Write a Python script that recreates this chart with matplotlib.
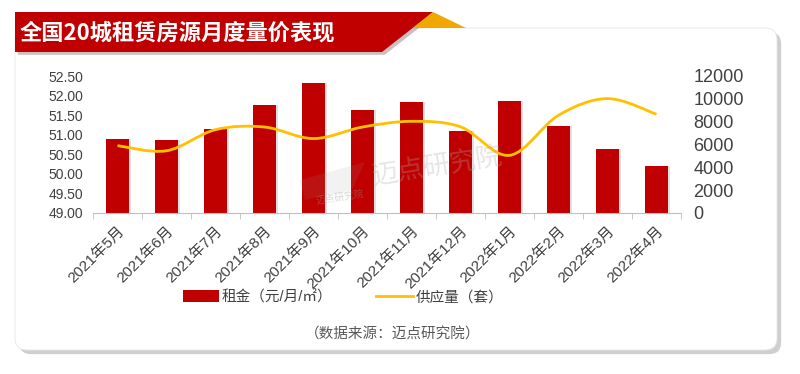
import numpy as np
import matplotlib
matplotlib.use('Agg')
import matplotlib.pyplot as plt
from matplotlib.path import Path
from matplotlib.patches import PathPatch, FancyBboxPatch, Polygon
from matplotlib.lines import Line2D
import matplotlib.patheffects as pe

plt.rcParams['font.family'] = ['Liberation Sans', 'Noto Sans CJK SC']

months = ['2021年5月', '2021年6月', '2021年7月', '2021年8月', '2021年9月', '2021年10月',
          '2021年11月', '2021年12月', '2022年1月', '2022年2月', '2022年3月', '2022年4月']
rent = [50.88, 50.86, 51.15, 51.75, 52.33, 51.64, 51.83, 51.09, 51.87, 51.23, 50.64, 50.20]
supply = [5900, 5450, 7300, 7530, 6520, 7530, 8030, 7550, 5050, 8560, 10020, 8650]

title = '全国20城租赁房源月度量价表现'
rent_label = '租金（元/月/㎡）'
supply_label = '供应量（套）'
source = '（数据来源：迈点研究院）'

red = '#C00000'
gold = '#FFC000'

fig = plt.figure(figsize=(8, 3.74), dpi=100)
fig.patch.set_facecolor('white')

# background layer in pixel coords
bg = fig.add_axes([0, 0, 1, 1])
bg.set_xlim(0, 800)
bg.set_ylim(374, 0)
bg.axis('off')

card = FancyBboxPatch((27, 40), 738, 298, boxstyle='round,pad=12,rounding_size=12',
                      fc='white', ec='#e6e6e6', lw=0.6,
                      path_effects=[pe.SimplePatchShadow(offset=(3, -3), shadow_rgbFace='#777777', alpha=0.35),
                                    pe.Normal()])
bg.add_patch(card)

banner = Polygon([(15, 12), (433, 12), (382, 52), (15, 52)], closed=True, fc=red, ec='none',
                 path_effects=[pe.SimplePatchShadow(offset=(2, -2), alpha=0.25), pe.Normal()])
bg.add_patch(banner)
bg.add_patch(Polygon([(433, 12), (466, 28), (413, 28)], closed=True, fc='#F0A800', ec='none'))
bg.text(20, 33, title, color='white', fontsize=16, fontweight='bold',
        family=['Noto Sans CJK SC'], va='center', ha='left')

# main chart
ax = fig.add_axes([93 / 800, 1 - 213 / 374, 588 / 800, 137 / 374])
ax.patch.set_alpha(0)
x = np.arange(len(months))
bars = ax.bar(x, rent, width=0.46, color=red, zorder=2,
              path_effects=[pe.SimplePatchShadow(offset=(1.5, 0), shadow_rgbFace='#555555', alpha=0.18),
                            pe.Normal()])
ax.set_ylim(49, 52.5)
ax.set_yticks(np.arange(49, 52.51, 0.5))
ax.set_yticklabels(['%.2f' % v for v in np.arange(49, 52.51, 0.5)], fontsize=10, color='#404040')
ax.set_xlim(-0.5, len(months) - 0.5)
ax.set_xticks(x)
ax.set_xticklabels(months, rotation=45, ha='right', rotation_mode='anchor', fontsize=11, color='#404040')
ax.set_xticks(np.arange(-0.5, len(months), 1), minor=True)
ax.tick_params(axis='x', which='major', length=0, pad=8)
ax.tick_params(axis='x', which='minor', length=4, color='#bfbfbf')
ax.tick_params(axis='y', length=0, pad=7)
for s in ['top', 'right', 'left']:
    ax.spines[s].set_visible(False)
ax.spines['bottom'].set_color('#bfbfbf')

ax2 = ax.twinx()
ax2.set_ylim(0, 12000)
ax2.set_yticks(range(0, 12001, 2000))
ax2.tick_params(axis='y', length=0, pad=9, labelsize=13, labelcolor='#404040')
for s in ['top', 'right', 'left', 'bottom']:
    ax2.spines[s].set_visible(False)

# smoothed line (Catmull-Rom style bezier like Excel)
pts = np.column_stack([x, supply]).astype(float)
verts = [tuple(pts[0])]
codes = [Path.MOVETO]
n = len(pts)
for i in range(n - 1):
    p0 = pts[max(i - 1, 0)]
    p1 = pts[i]
    p2 = pts[i + 1]
    p3 = pts[min(i + 2, n - 1)]
    c1 = p1 + (p2 - p0) / 6
    c2 = p2 - (p3 - p1) / 6
    verts += [tuple(c1), tuple(c2), tuple(p2)]
    codes += [Path.CURVE4] * 3
ax2.add_patch(PathPatch(Path(verts, codes), fc='none', ec=gold, lw=2, zorder=3))

# watermark, drawn above the chart
fig.text(437 / 800, 1 - 166 / 374, '迈点研究院', fontsize=19, color='#aaaaaa', alpha=0.3, rotation=9,
         ha='center', va='center', family=['Noto Sans CJK SC'], zorder=10)
logo = Polygon([(300, 180), (365, 162), (352, 190), (305, 200)], closed=True,
               fc='#999999', alpha=0.12, ec='none', transform=bg.transData, zorder=10)
fig.add_artist(logo)
fig.text(340 / 800, 1 - 197 / 374, '迈点研究院', fontsize=7, color='#999999', alpha=0.4, rotation=9,
         ha='center', va='center', family=['Noto Sans CJK SC'], zorder=10)

handles = [plt.Rectangle((0, 0), 1, 1, fc=red, ec='none'),
           Line2D([0], [0], color=gold, lw=2)]
fig.legend(handles, [rent_label, supply_label], loc='center', bbox_to_anchor=(343 / 800, 1 - 297 / 374),
           ncol=2, frameon=False, fontsize=10.5, handlelength=2.5, handleheight=0.9,
           handletextpad=0.2, columnspacing=3.0, labelcolor='#404040')

fig.text(393 / 800, 1 - 335 / 374, source, fontsize=10.5, color='#595959', ha='center', va='center',
         style='italic')

fig.savefig('out.png', dpi=100)
